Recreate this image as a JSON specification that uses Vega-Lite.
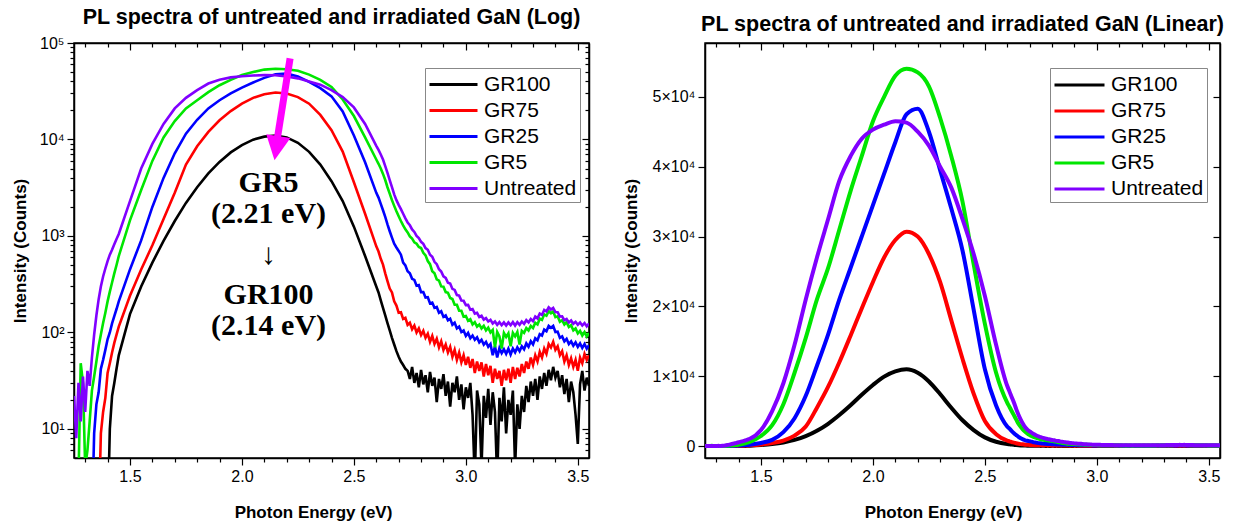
{
"$schema": "https://vega.github.io/schema/vega-lite/v6.json",
"background": "white",
"padding": {"left": 10, "top": 5, "right": 0, "bottom": 0},
"spacing": 30,
"config": {
 "font": "Liberation Sans",
 "view": {"stroke": "black", "strokeWidth": 1.5},
 "axis": {"grid": false, "labelFont": "Liberation Sans", "labelFontSize": 16, "labelColor": "black", "titleFont": "Liberation Sans", "titleFontSize": 17, "titleFontWeight": "bold", "titleColor": "black", "domainColor": "black", "domainWidth": 1.5, "tickColor": "black", "tickWidth": 1.2, "labelPadding": 3, "labelFlush": false, "labelOverlap": false},
 "legend": {"labelFont": "Liberation Sans", "labelFontSize": 21, "labelColor": "black"},
 "title": {"font": "Liberation Sans", "fontSize": 21.5, "fontWeight": "bold", "color": "black", "anchor": "middle", "offset": 7}
},
"resolve": {"legend": {"color": "independent"}},
"datasets": {
"spec": [
{"e":1.25,"GR100":1,"GR75":1,"GR25":1,"GR5":2,"Untreated":22},
{"e":1.26,"GR100":1,"GR75":1,"GR25":1,"GR5":2,"Untreated":8},
{"e":1.27,"GR100":1,"GR75":1,"GR25":1,"GR5":3,"Untreated":30},
{"e":1.28,"GR100":1,"GR75":1,"GR25":1,"GR5":48,"Untreated":12},
{"e":1.29,"GR100":1,"GR75":1,"GR25":1,"GR5":30,"Untreated":35},
{"e":1.30,"GR100":1,"GR75":1,"GR25":1,"GR5":4,"Untreated":15},
{"e":1.31,"GR100":1,"GR75":1,"GR25":1,"GR5":6,"Untreated":40},
{"e":1.32,"GR100":1,"GR75":1,"GR25":1,"GR5":12,"Untreated":28},
{"e":1.33,"GR100":1,"GR75":1,"GR25":1,"GR5":25,"Untreated":55},
{"e":1.34,"GR100":1,"GR75":1,"GR25":9,"GR5":35,"Untreated":95},
{"e":1.35,"GR100":1,"GR75":1,"GR25":18,"GR5":50,"Untreated":150},
{"e":1.36,"GR100":1,"GR75":1,"GR25":24,"GR5":72,"Untreated":220},
{"e":1.37,"GR100":1,"GR75":9,"GR25":42,"GR5":95,"Untreated":300},
{"e":1.38,"GR100":1,"GR75":15,"GR25":52,"GR5":125,"Untreated":380},
{"e":1.39,"GR100":1,"GR75":21,"GR25":66,"GR5":160,"Untreated":460},
{"e":1.40,"GR100":1,"GR75":38,"GR25":85,"GR5":210,"Untreated":550},
{"e":1.41,"GR100":10,"GR75":48,"GR25":100,"GR5":265,"Untreated":640},
{"e":1.42,"GR100":22,"GR75":62,"GR25":124,"GR5":330,"Untreated":720},
{"e":1.43,"GR100":30,"GR75":78,"GR25":148,"GR5":410,"Untreated":820},
{"e":1.44,"GR100":42,"GR75":95,"GR25":175,"GR5":500,"Untreated":930},
{"e":1.45,"GR100":58,"GR75":115,"GR25":210,"GR5":620,"Untreated":1050},
{"e":1.50,"GR100":155,"GR75":240,"GR25":450,"GR5":1450,"Untreated":2300},
{"e":1.55,"GR100":300,"GR75":450,"GR25":900,"GR5":3000,"Untreated":5000},
{"e":1.60,"GR100":530,"GR75":800,"GR25":2000,"GR5":6000,"Untreated":9000},
{"e":1.65,"GR100":890,"GR75":1500,"GR25":4000,"GR5":10500,"Untreated":14500},
{"e":1.70,"GR100":1430,"GR75":2800,"GR25":7200,"GR5":15500,"Untreated":21000},
{"e":1.75,"GR100":2200,"GR75":5500,"GR25":11500,"GR5":21000,"Untreated":27000},
{"e":1.80,"GR100":3200,"GR75":8500,"GR25":16000,"GR5":25500,"Untreated":32500},
{"e":1.85,"GR100":4450,"GR75":12000,"GR25":21000,"GR5":31000,"Untreated":38000},
{"e":1.90,"GR100":5850,"GR75":15800,"GR25":25500,"GR5":36500,"Untreated":41500},
{"e":1.95,"GR100":7350,"GR75":19700,"GR25":30000,"GR5":41500,"Untreated":44000},
{"e":2.00,"GR100":8750,"GR75":23500,"GR25":34500,"GR5":46500,"Untreated":45300},
{"e":2.05,"GR100":9950,"GR75":27000,"GR25":39000,"GR5":50000,"Untreated":46000},
{"e":2.10,"GR100":10700,"GR75":29500,"GR25":43500,"GR5":53000,"Untreated":46500},
{"e":2.15,"GR100":11000,"GR75":30700,"GR25":47500,"GR5":54000,"Untreated":46300},
{"e":2.20,"GR100":10500,"GR75":30000,"GR25":48300,"GR5":53500,"Untreated":45000},
{"e":2.25,"GR100":9250,"GR75":27500,"GR25":45000,"GR5":51500,"Untreated":43000},
{"e":2.30,"GR100":7450,"GR75":23500,"GR25":39500,"GR5":47000,"Untreated":40000},
{"e":2.35,"GR100":5500,"GR75":18000,"GR25":34000,"GR5":41500,"Untreated":37000},
{"e":2.40,"GR100":3700,"GR75":12500,"GR25":28000,"GR5":35000,"Untreated":32500},
{"e":2.45,"GR100":2300,"GR75":7500,"GR25":19500,"GR5":26000,"Untreated":27500},
{"e":2.50,"GR100":1250,"GR75":3600,"GR25":11000,"GR5":17500,"Untreated":21500},
{"e":2.55,"GR100":620,"GR75":1700,"GR25":5800,"GR5":10500,"Untreated":14500},
{"e":2.60,"GR100":300,"GR75":780,"GR25":2800,"GR5":6200,"Untreated":8600},
{"e":2.61,"GR100":260,"GR75":690,"GR25":2500,"GR5":5600,"Untreated":7800},
{"e":2.62,"GR100":215,"GR75":580,"GR25":2150,"GR5":5000,"Untreated":7000},
{"e":2.63,"GR100":180,"GR75":505,"GR25":1850,"GR5":4400,"Untreated":6200},
{"e":2.64,"GR100":150,"GR75":410,"GR25":1580,"GR5":3800,"Untreated":5300},
{"e":2.65,"GR100":125,"GR75":340,"GR25":1320,"GR5":3200,"Untreated":4500},
{"e":2.66,"GR100":105,"GR75":285,"GR25":1120,"GR5":2750,"Untreated":3800},
{"e":2.67,"GR100":88,"GR75":260,"GR25":960,"GR5":2350,"Untreated":3200},
{"e":2.68,"GR100":75,"GR75":210,"GR25":830,"GR5":2050,"Untreated":2700},
{"e":2.69,"GR100":64,"GR75":190,"GR25":760,"GR5":1800,"Untreated":2350},
{"e":2.70,"GR100":56,"GR75":160,"GR25":700,"GR5":1600,"Untreated":2100},
{"e":2.71,"GR100":50,"GR75":162,"GR25":640,"GR5":1430,"Untreated":1900},
{"e":2.72,"GR100":46,"GR75":138,"GR25":530,"GR5":1290,"Untreated":1700},
{"e":2.73,"GR100":42,"GR75":142,"GR25":495,"GR5":1170,"Untreated":1520},
{"e":2.74,"GR100":40,"GR75":120,"GR25":430,"GR5":1090,"Untreated":1380},
{"e":2.75,"GR100":33,"GR75":126,"GR25":410,"GR5":990,"Untreated":1290},
{"e":2.76,"GR100":44,"GR75":108,"GR25":360,"GR5":940,"Untreated":1170},
{"e":2.77,"GR100":30,"GR75":118,"GR25":350,"GR5":860,"Untreated":1100},
{"e":2.78,"GR100":38,"GR75":100,"GR25":305,"GR5":830,"Untreated":1000},
{"e":2.79,"GR100":27,"GR75":110,"GR25":310,"GR5":770,"Untreated":950},
{"e":2.80,"GR100":41,"GR75":94,"GR25":262,"GR5":750,"Untreated":870},
{"e":2.81,"GR100":29,"GR75":104,"GR25":262,"GR5":670,"Untreated":830},
{"e":2.82,"GR100":36,"GR75":88,"GR25":230,"GR5":630,"Untreated":750},
{"e":2.83,"GR100":24,"GR75":97,"GR25":232,"GR5":550,"Untreated":720},
{"e":2.84,"GR100":39,"GR75":80,"GR25":200,"GR5":510,"Untreated":640},
{"e":2.85,"GR100":28,"GR75":92,"GR25":204,"GR5":430,"Untreated":610},
{"e":2.86,"GR100":34,"GR75":76,"GR25":180,"GR5":410,"Untreated":540},
{"e":2.87,"GR100":19,"GR75":86,"GR25":184,"GR5":355,"Untreated":510},
{"e":2.88,"GR100":33,"GR75":70,"GR25":160,"GR5":345,"Untreated":452},
{"e":2.89,"GR100":26,"GR75":81,"GR25":166,"GR5":300,"Untreated":428},
{"e":2.90,"GR100":37,"GR75":66,"GR25":145,"GR5":298,"Untreated":382},
{"e":2.91,"GR100":22,"GR75":75,"GR25":150,"GR5":262,"Untreated":368},
{"e":2.92,"GR100":31,"GR75":62,"GR25":134,"GR5":258,"Untreated":328},
{"e":2.93,"GR100":17,"GR75":71,"GR25":139,"GR5":228,"Untreated":322},
{"e":2.94,"GR100":30,"GR75":56,"GR25":120,"GR5":222,"Untreated":283},
{"e":2.95,"GR100":24,"GR75":66,"GR25":126,"GR5":194,"Untreated":276},
{"e":2.96,"GR100":35,"GR75":52,"GR25":110,"GR5":194,"Untreated":244},
{"e":2.97,"GR100":20,"GR75":62,"GR25":115,"GR5":168,"Untreated":241},
{"e":2.98,"GR100":29,"GR75":49,"GR25":101,"GR5":168,"Untreated":214},
{"e":2.99,"GR100":16,"GR75":58,"GR25":105,"GR5":146,"Untreated":213},
{"e":3.00,"GR100":27,"GR75":46,"GR25":92,"GR5":148,"Untreated":192},
{"e":3.01,"GR100":21,"GR75":56,"GR25":99,"GR5":132,"Untreated":193},
{"e":3.02,"GR100":30,"GR75":43,"GR25":87,"GR5":137,"Untreated":172},
{"e":3.03,"GR100":14,"GR75":53,"GR25":93,"GR5":121,"Untreated":175},
{"e":3.04,"GR100":3,"GR75":38,"GR25":84,"GR5":128,"Untreated":157},
{"e":3.05,"GR100":25,"GR75":50,"GR25":89,"GR5":115,"Untreated":160},
{"e":3.06,"GR100":18,"GR75":40,"GR25":79,"GR5":121,"Untreated":145},
{"e":3.07,"GR100":4,"GR75":49,"GR25":84,"GR5":110,"Untreated":149},
{"e":3.08,"GR100":22,"GR75":35,"GR25":75,"GR5":117,"Untreated":136},
{"e":3.09,"GR100":13,"GR75":47,"GR25":80,"GR5":105,"Untreated":141},
{"e":3.10,"GR100":26,"GR75":36,"GR25":71,"GR5":112,"Untreated":130},
{"e":3.11,"GR100":11,"GR75":45,"GR25":76,"GR5":100,"Untreated":135},
{"e":3.12,"GR100":24,"GR75":30,"GR25":58,"GR5":106,"Untreated":124},
{"e":3.13,"GR100":15,"GR75":42,"GR25":72,"GR5":70,"Untreated":130},
{"e":3.14,"GR100":3,"GR75":33,"GR25":55,"GR5":101,"Untreated":120},
{"e":3.15,"GR100":21,"GR75":40,"GR25":69,"GR5":91,"Untreated":128},
{"e":3.16,"GR100":12,"GR75":28,"GR25":61,"GR5":68,"Untreated":119},
{"e":3.17,"GR100":27,"GR75":41,"GR25":67,"GR5":99,"Untreated":127},
{"e":3.18,"GR100":9,"GR75":32,"GR25":60,"GR5":90,"Untreated":118},
{"e":3.19,"GR100":20,"GR75":42,"GR25":68,"GR5":98,"Untreated":127},
{"e":3.20,"GR100":14,"GR75":30,"GR25":59,"GR5":72,"Untreated":119},
{"e":3.21,"GR100":25,"GR75":44,"GR25":68,"GR5":99,"Untreated":128},
{"e":3.22,"GR100":4,"GR75":33,"GR25":62,"GR5":91,"Untreated":118},
{"e":3.23,"GR100":18,"GR75":43,"GR25":70,"GR5":101,"Untreated":128},
{"e":3.24,"GR100":10,"GR75":35,"GR25":64,"GR5":75,"Untreated":120},
{"e":3.25,"GR100":22,"GR75":47,"GR25":72,"GR5":104,"Untreated":130},
{"e":3.26,"GR100":15,"GR75":38,"GR25":67,"GR5":99,"Untreated":123},
{"e":3.27,"GR100":28,"GR75":50,"GR25":77,"GR5":111,"Untreated":134},
{"e":3.28,"GR100":19,"GR75":42,"GR25":71,"GR5":105,"Untreated":127},
{"e":3.29,"GR100":31,"GR75":55,"GR25":81,"GR5":117,"Untreated":138},
{"e":3.30,"GR100":22,"GR75":46,"GR25":75,"GR5":111,"Untreated":131},
{"e":3.31,"GR100":33,"GR75":58,"GR25":87,"GR5":126,"Untreated":146},
{"e":3.32,"GR100":20,"GR75":50,"GR25":83,"GR5":121,"Untreated":140},
{"e":3.33,"GR100":35,"GR75":63,"GR25":96,"GR5":139,"Untreated":157},
{"e":3.34,"GR100":26,"GR75":55,"GR25":93,"GR5":135,"Untreated":152},
{"e":3.35,"GR100":38,"GR75":68,"GR25":107,"GR5":154,"Untreated":171},
{"e":3.36,"GR100":28,"GR75":60,"GR25":103,"GR5":149,"Untreated":165},
{"e":3.37,"GR100":41,"GR75":76,"GR25":117,"GR5":166,"Untreated":182},
{"e":3.38,"GR100":32,"GR75":70,"GR25":112,"GR5":158,"Untreated":173},
{"e":3.39,"GR100":44,"GR75":80,"GR25":117,"GR5":165,"Untreated":180},
{"e":3.40,"GR100":34,"GR75":66,"GR25":101,"GR5":144,"Untreated":163},
{"e":3.41,"GR100":40,"GR75":72,"GR25":102,"GR5":147,"Untreated":162},
{"e":3.42,"GR100":27,"GR75":58,"GR25":88,"GR5":129,"Untreated":146},
{"e":3.43,"GR100":36,"GR75":64,"GR25":91,"GR5":134,"Untreated":147},
{"e":3.44,"GR100":23,"GR75":50,"GR25":81,"GR5":121,"Untreated":134},
{"e":3.45,"GR100":33,"GR75":58,"GR25":86,"GR5":128,"Untreated":138},
{"e":3.46,"GR100":19,"GR75":46,"GR25":76,"GR5":114,"Untreated":127},
{"e":3.47,"GR100":31,"GR75":54,"GR25":81,"GR5":119,"Untreated":133},
{"e":3.48,"GR100":24,"GR75":44,"GR25":73,"GR5":105,"Untreated":123},
{"e":3.49,"GR100":14,"GR75":52,"GR25":79,"GR5":110,"Untreated":129},
{"e":3.50,"GR100":7,"GR75":40,"GR25":71,"GR5":98,"Untreated":120},
{"e":3.51,"GR100":29,"GR75":55,"GR25":77,"GR5":104,"Untreated":127},
{"e":3.52,"GR100":40,"GR75":48,"GR25":69,"GR5":93,"Untreated":118},
{"e":3.53,"GR100":25,"GR75":60,"GR25":76,"GR5":101,"Untreated":125},
{"e":3.54,"GR100":34,"GR75":52,"GR25":68,"GR5":91,"Untreated":116},
{"e":3.55,"GR100":28,"GR75":58,"GR25":74,"GR5":99,"Untreated":124}
]
},
"hconcat": [
{
 "width": 515, "height": 415,
 "title": {"text": "PL spectra of untreated and irradiated GaN (Log)"},
 "resolve": {"axis": {"x": "independent", "y": "independent"}},
 "layer": [
  {
   "data": {"name": "spec"},
   "transform": [{"fold": ["GR100", "GR75", "GR25", "GR5", "Untreated"], "as": ["series", "v"]}],
   "mark": {"type": "line", "strokeWidth": 2.6, "clip": true},
   "encoding": {
    "x": {"field": "e", "type": "quantitative", "scale": {"domain": [1.25, 3.55], "nice": false, "zero": false},
     "axis": {"orient": "bottom", "title": "Photon Energy (eV)", "titlePadding": 20, "titleX": 239,
      "values": [1.3,1.4,1.5,1.6,1.7,1.8,1.9,2.0,2.1,2.2,2.3,2.4,2.5,2.6,2.7,2.8,2.9,3.0,3.1,3.2,3.3,3.4,3.5],
      "labelExpr": "abs(datum.value*2 - round(datum.value*2)) < 0.01 ? format(datum.value, '.1f') : ''",
      "tickSize": {"condition": {"test": "abs(datum.value*2 - round(datum.value*2)) < 0.01", "value": 7}, "value": 4}}},
    "y": {"field": "v", "type": "quantitative", "scale": {"type": "log", "domain": [5, 100000], "nice": false},
     "axis": {"orient": "left", "title": "Intensity (Counts)", "titlePadding": 10,
      "values": [6,7,8,9,10,20,30,40,50,60,70,80,90,100,200,300,400,500,600,700,800,900,1000,2000,3000,4000,5000,6000,7000,8000,9000,10000,20000,30000,40000,50000,60000,70000,80000,90000,100000],
      "labelExpr": "datum.value == 10 ? '10¹' : datum.value == 100 ? '10²' : datum.value == 1000 ? '10³' : datum.value == 10000 ? '10⁴' : datum.value == 100000 ? '10⁵' : ''",
      "tickSize": {"condition": {"test": "datum.value == 10 || datum.value == 100 || datum.value == 1000 || datum.value == 10000 || datum.value == 100000", "value": 7}, "value": 4}}},
    "color": {"field": "series", "type": "nominal",
     "scale": {"domain": ["GR100", "GR75", "GR25", "GR5", "Untreated"], "range": ["#000000", "#FF0000", "#0000FF", "#00E600", "#8000FF"]},
     "legend": {"orient": "none", "legendX": 351, "legendY": 25, "title": null, "symbolType": "M-1,0L3,0", "symbolSize": 576, "symbolStrokeWidth": 3, "symbolFillColor": "transparent", "strokeColor": "#888888", "fillColor": "white", "padding": 3, "rowPadding": 2, "labelOffset": 29}}
   }
  },
  {
   "data": {"values": [{"e": 2.0, "v": 100}]},
   "mark": {"type": "point", "opacity": 0},
   "encoding": {
    "x": {"field": "e", "type": "quantitative", "scale": {"domain": [1.25, 3.55], "nice": false, "zero": false},
     "axis": {"orient": "top", "title": null, "labels": false,
      "values": [1.3,1.4,1.5,1.6,1.7,1.8,1.9,2.0,2.1,2.2,2.3,2.4,2.5,2.6,2.7,2.8,2.9,3.0,3.1,3.2,3.3,3.4,3.5],
      "tickSize": {"condition": {"test": "abs(datum.value*2 - round(datum.value*2)) < 0.01", "value": -7}, "value": -4}}},
    "y": {"field": "v", "type": "quantitative", "scale": {"type": "log", "domain": [5, 100000], "nice": false},
     "axis": {"orient": "right", "title": null, "labels": false,
      "values": [6,7,8,9,10,20,30,40,50,60,70,80,90,100,200,300,400,500,600,700,800,900,1000,2000,3000,4000,5000,6000,7000,8000,9000,10000,20000,30000,40000,50000,60000,70000,80000,90000,100000],
      "tickSize": {"condition": {"test": "datum.value == 10 || datum.value == 100 || datum.value == 1000 || datum.value == 10000 || datum.value == 100000", "value": -7}, "value": -4}}}
   }
  },
  {
   "data": {"values": [{"e": 2.215, "v": 69300, "e2": 2.159, "v2": 10560}]},
   "mark": {"type": "rule", "color": "#FF00FF", "strokeWidth": 7},
   "encoding": {
    "x": {"field": "e", "type": "quantitative", "scale": {"domain": [1.25, 3.55], "nice": false, "zero": false}, "axis": null},
    "y": {"field": "v", "type": "quantitative", "scale": {"type": "log", "domain": [5, 100000], "nice": false}, "axis": null},
    "x2": {"field": "e2"},
    "y2": {"field": "v2"}
   }
  },
  {
   "data": {"values": [{"e": 2.154, "v": 8130}]},
   "mark": {"type": "point", "shape": "M-1,-1L1,-1L0,1Z", "filled": true, "color": "#FF00FF", "opacity": 1, "size": 600, "angle": 9},
   "encoding": {
    "x": {"field": "e", "type": "quantitative", "scale": {"domain": [1.25, 3.55], "nice": false, "zero": false}, "axis": null},
    "y": {"field": "v", "type": "quantitative", "scale": {"type": "log", "domain": [5, 100000], "nice": false}, "axis": null}
   }
  },
  {
   "data": {"values": [
    {"e": 2.119, "v": 3520, "t": "GR5"},
    {"e": 2.119, "v": 1676, "t": "(2.21 eV)"},
    {"e": 2.119, "v": 631, "t": "↓"},
    {"e": 2.119, "v": 242, "t": "GR100"},
    {"e": 2.119, "v": 118, "t": "(2.14 eV)"}
   ]},
   "mark": {"type": "text", "font": "Liberation Serif", "fontWeight": "bold", "fontSize": 30, "color": "black", "align": "center", "baseline": "middle"},
   "encoding": {
    "x": {"field": "e", "type": "quantitative", "scale": {"domain": [1.25, 3.55], "nice": false, "zero": false}, "axis": null},
    "y": {"field": "v", "type": "quantitative", "scale": {"type": "log", "domain": [5, 100000], "nice": false}, "axis": null},
    "text": {"field": "t"}
   }
  }
 ]
},
{
 "width": 515, "height": 415,
 "title": {"text": "PL spectra of untreated and irradiated GaN (Linear)"},
 "resolve": {"axis": {"x": "independent", "y": "independent"}},
 "layer": [
  {
   "data": {"name": "spec"},
   "transform": [{"fold": ["GR100", "GR75", "GR25", "GR5", "Untreated"], "as": ["series", "v"]}],
   "mark": {"type": "line", "strokeWidth": 4, "clip": true, "interpolate": "monotone"},
   "encoding": {
    "x": {"field": "e", "type": "quantitative", "scale": {"domain": [1.25, 3.55], "nice": false, "zero": false},
     "axis": {"orient": "bottom", "title": "Photon Energy (eV)", "titlePadding": 20, "titleX": 238,
      "values": [1.3,1.4,1.5,1.6,1.7,1.8,1.9,2.0,2.1,2.2,2.3,2.4,2.5,2.6,2.7,2.8,2.9,3.0,3.1,3.2,3.3,3.4,3.5],
      "labelExpr": "abs(datum.value*2 - round(datum.value*2)) < 0.01 ? format(datum.value, '.1f') : ''",
      "tickSize": {"condition": {"test": "abs(datum.value*2 - round(datum.value*2)) < 0.01", "value": 7}, "value": 4}}},
    "y": {"field": "v", "type": "quantitative", "scale": {"domain": [-1700, 57700], "nice": false, "zero": false},
     "axis": {"orient": "left", "title": "Intensity (Counts)", "titlePadding": 12,
      "values": [0, 10000, 20000, 30000, 40000, 50000],
      "labelExpr": "datum.value == 0 ? '0' : format(datum.value/10000, 'd') + '×10⁴'",
      "tickSize": 7}},
    "color": {"field": "series", "type": "nominal",
     "scale": {"domain": ["GR100", "GR75", "GR25", "GR5", "Untreated"], "range": ["#000000", "#FF0000", "#0000FF", "#00E600", "#8000FF"]},
     "legend": {"orient": "none", "legendX": 345, "legendY": 25, "title": null, "symbolType": "M-1,0L3,0", "symbolSize": 625, "symbolStrokeWidth": 3, "symbolFillColor": "transparent", "strokeColor": "#888888", "fillColor": "white", "padding": 3, "rowPadding": 2, "labelOffset": 30}}
   }
  },
  {
   "data": {"values": [{"e": 2.0, "v": 100}]},
   "mark": {"type": "point", "opacity": 0},
   "encoding": {
    "x": {"field": "e", "type": "quantitative", "scale": {"domain": [1.25, 3.55], "nice": false, "zero": false},
     "axis": {"orient": "top", "title": null, "labels": false,
      "values": [1.3,1.4,1.5,1.6,1.7,1.8,1.9,2.0,2.1,2.2,2.3,2.4,2.5,2.6,2.7,2.8,2.9,3.0,3.1,3.2,3.3,3.4,3.5],
      "tickSize": {"condition": {"test": "abs(datum.value*2 - round(datum.value*2)) < 0.01", "value": -7}, "value": -4}}},
    "y": {"field": "v", "type": "quantitative", "scale": {"domain": [-1700, 57700], "nice": false, "zero": false},
     "axis": {"orient": "right", "title": null, "labels": false, "values": [0, 10000, 20000, 30000, 40000, 50000], "tickSize": -7}}
   }
  }
 ]
}
]
}
